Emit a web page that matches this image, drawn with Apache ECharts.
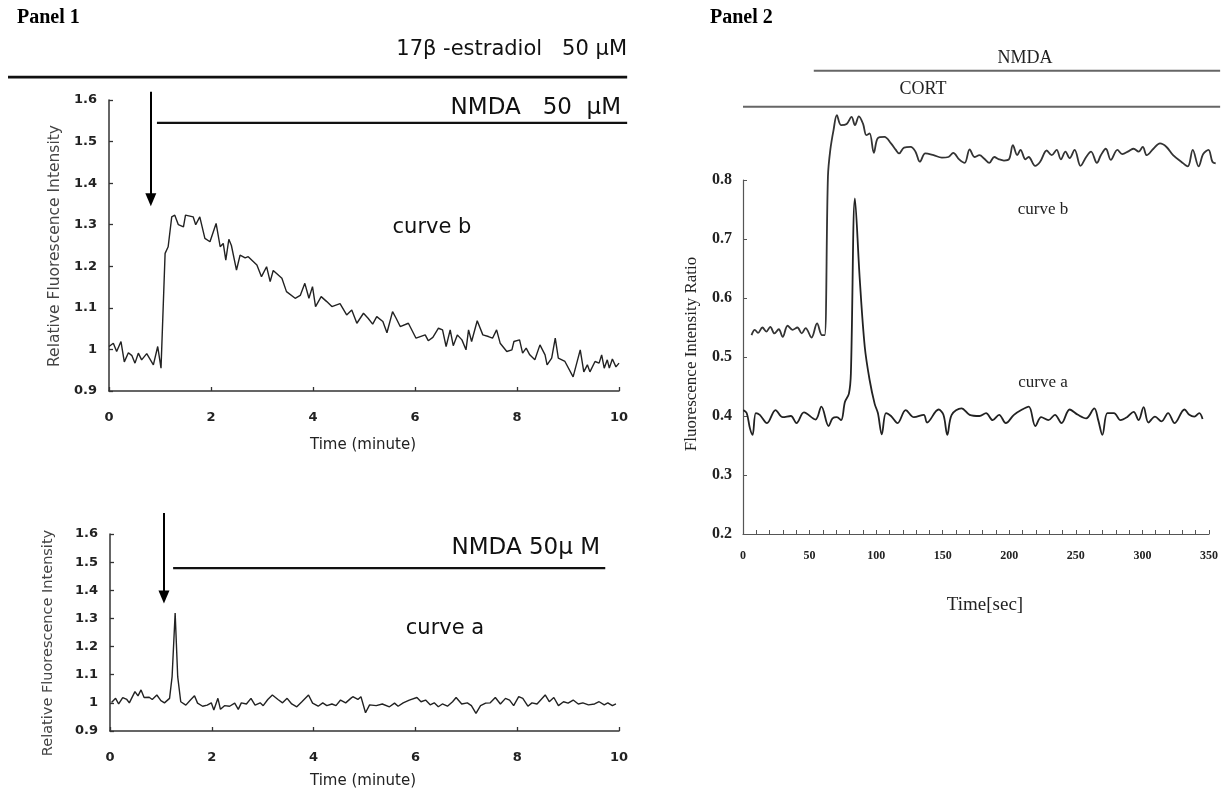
<!DOCTYPE html>
<html>
<head>
<meta charset="utf-8">
<script src="https://cdn.jsdelivr.net/npm/echarts@6/dist/echarts.min.js"></script>
<style>
html,body{margin:0;padding:0;background:#fff;}
#chart{width:1228px;height:794px;}
</style>
</head>
<body>
<div id="chart"></div>
<script>
// ---------- Panel 1, curve b (with 17β-estradiol) ----------
const p1bTime = [0,0.085,0.15,0.235,0.30,0.38,0.45,0.51,0.575,0.64,0.74,0.87,0.955,1.02,1.10,1.16,1.23,1.29,1.36,1.46,1.50,1.65,1.70,1.78,1.88,1.98,2.10,2.18,2.24,2.29,2.35,2.40,2.50,2.57,2.67,2.73,2.90,2.99,3.09,3.16,3.22,3.39,3.48,3.65,3.75,3.84,3.92,3.99,4.05,4.16,4.27,4.37,4.53,4.66,4.76,4.86,4.99,5.08,5.17,5.25,5.37,5.45,5.56,5.63,5.71,5.87,6.02,6.20,6.26,6.35,6.46,6.54,6.61,6.69,6.75,6.83,6.92,7.00,7.05,7.11,7.22,7.33,7.44,7.52,7.60,7.67,7.80,7.90,7.94,8.05,8.11,8.18,8.25,8.35,8.45,8.55,8.59,8.68,8.75,8.81,8.94,9.10,9.24,9.31,9.38,9.43,9.53,9.61,9.66,9.71,9.77,9.81,9.87,9.94,10.0];
const p1bValue = [1.007,1.015,0.995,1.019,0.970,0.992,0.985,0.967,0.991,0.975,0.990,0.963,1.007,0.955,1.231,1.247,1.319,1.323,1.300,1.295,1.323,1.319,1.300,1.319,1.267,1.259,1.303,1.247,1.255,1.215,1.265,1.250,1.191,1.227,1.220,1.223,1.203,1.175,1.199,1.163,1.190,1.171,1.139,1.123,1.130,1.159,1.123,1.151,1.103,1.127,1.115,1.103,1.110,1.083,1.095,1.063,1.087,1.075,1.061,1.079,1.067,1.040,1.091,1.075,1.055,1.063,1.027,1.035,1.021,1.029,1.051,1.047,1.007,1.047,1.009,1.035,1.023,0.999,1.047,1.019,1.069,1.035,1.031,1.027,1.047,1.015,0.995,0.999,1.019,1.023,0.991,1.003,0.987,0.975,1.011,0.987,0.963,0.979,1.027,0.979,0.971,0.934,0.999,0.946,0.963,0.946,0.971,0.967,0.987,0.955,0.975,0.955,0.977,0.958,0.967];

// ---------- Panel 1, curve a (control) ----------
const p1aTime = [0.03,0.11,0.17,0.25,0.33,0.38,0.49,0.55,0.61,0.67,0.77,0.83,0.92,1.00,1.07,1.17,1.22,1.28,1.33,1.39,1.49,1.58,1.66,1.72,1.82,1.91,1.99,2.04,2.12,2.17,2.25,2.35,2.45,2.52,2.58,2.68,2.77,2.85,2.95,3.01,3.10,3.19,3.30,3.39,3.48,3.57,3.67,3.77,3.90,3.98,4.09,4.18,4.26,4.36,4.44,4.53,4.63,4.73,4.77,4.87,4.93,5.02,5.10,5.23,5.35,5.49,5.59,5.66,5.76,5.88,6.03,6.11,6.20,6.29,6.37,6.45,6.53,6.63,6.73,6.80,6.91,7.02,7.10,7.19,7.28,7.38,7.47,7.57,7.67,7.77,7.85,7.93,8.03,8.11,8.21,8.29,8.39,8.47,8.55,8.63,8.72,8.81,8.91,9.00,9.10,9.20,9.29,9.40,9.52,9.61,9.71,9.78,9.87,9.94];
const p1aValue = [1.001,1.016,0.996,1.019,1.012,1.000,1.040,1.025,1.046,1.019,1.020,1.012,1.028,1.008,1.000,1.016,1.093,1.319,1.093,1.004,0.992,1.010,1.025,0.999,0.988,0.992,1.000,0.975,1.016,0.977,0.990,0.988,0.999,0.977,1.000,0.996,1.016,0.992,1.000,0.990,1.012,1.028,1.012,1.000,1.016,0.996,0.986,1.004,1.028,0.999,0.988,1.000,0.990,0.996,0.990,1.010,1.000,1.016,1.022,1.012,1.022,0.965,0.993,0.990,0.996,0.986,0.999,0.988,1.000,1.010,1.019,1.004,1.010,0.993,1.000,0.986,0.996,0.988,1.004,1.019,0.996,1.000,0.990,0.963,0.990,0.999,1.000,1.019,0.996,1.016,1.010,0.990,1.022,1.016,0.988,1.000,0.996,1.012,1.028,1.004,1.019,0.990,1.004,0.999,1.010,0.996,1.000,0.993,0.996,1.004,0.993,1.000,0.990,0.996];

// ---------- Panel 2, curve b ----------
const p2bTime = [6.5,9,11.5,14.8,17.8,20.8,24,27.3,30.3,34,37.8,41.5,44.8,47.8,52.3,56.5,60.3,62.3,64.8,66.6,69.1,71.6,74.8,79.1,82.8,85.4,88.4,91.6,94.1,96.6,99.8,102.9,107.9,112.9,116.6,119.1,122.9,127.9,131.6,134.9,139.1,145.4,151.7,156.7,160.4,164.9,169.1,172.9,176.6,180.4,184.1,187.9,191.6,195.4,199.1,202.9,205.9,209.2,211.7,215.5,217.9,222.9,226.7,231.7,235.5,239.3,242.5,246,249.2,253,257.5,261.8,265.5,270,273,276.8,280.6,285.6,289.3,294.3,298,301.8,305,308,313.1,318.1,323.1,328.1,334.3,339.3,343.1,347.6,351.1,355.1,358.1,360.6];
const p2bValue = [0.537,0.546,0.541,0.550,0.543,0.551,0.540,0.547,0.534,0.553,0.546,0.550,0.540,0.549,0.533,0.557,0.537,0.537,0.806,0.851,0.885,0.910,0.893,0.895,0.907,0.893,0.908,0.895,0.876,0.879,0.846,0.871,0.873,0.862,0.851,0.845,0.855,0.856,0.848,0.831,0.845,0.842,0.838,0.839,0.846,0.835,0.829,0.852,0.839,0.842,0.836,0.829,0.839,0.835,0.833,0.835,0.859,0.842,0.851,0.835,0.839,0.824,0.831,0.850,0.842,0.851,0.835,0.848,0.837,0.851,0.824,0.839,0.848,0.829,0.842,0.853,0.834,0.851,0.844,0.849,0.853,0.848,0.856,0.842,0.853,0.862,0.856,0.842,0.831,0.823,0.851,0.823,0.844,0.851,0.831,0.828];

// ---------- Panel 2, curve a ----------
const p2aTime = [0.2,2.8,5.3,7.3,9.8,12.8,18.3,24.8,30.3,36.5,40.8,46.5,55.3,59.8,65.3,68.3,71.6,74.8,77.8,80.8,82.3,85.4,89.1,92.9,96.6,100.4,102.9,105.9,109.1,112.9,117.9,124.1,130.4,137.9,140.4,149.2,152.9,155.9,159.2,166.7,172.9,180.4,185.4,190.5,195.4,200.5,206.7,213,218,223,227.5,233,238,243,249.2,255.5,261.8,268,271,274.2,278,283,288,293,298,301.8,305.6,309.3,314.3,319.3,324.3,329.3,336.8,340.5,344.3,348.1,350.6];
const p2aValue = [0.410,0.405,0.379,0.368,0.405,0.402,0.388,0.410,0.398,0.400,0.388,0.406,0.394,0.416,0.383,0.396,0.398,0.393,0.424,0.438,0.472,0.769,0.631,0.517,0.461,0.421,0.405,0.369,0.405,0.400,0.388,0.410,0.398,0.402,0.389,0.411,0.402,0.368,0.402,0.413,0.402,0.400,0.405,0.393,0.402,0.388,0.402,0.411,0.416,0.383,0.398,0.393,0.402,0.388,0.411,0.402,0.396,0.413,0.393,0.368,0.405,0.405,0.393,0.398,0.407,0.393,0.415,0.389,0.399,0.391,0.405,0.388,0.411,0.402,0.399,0.405,0.395];

// ---------- Treatment periods (start, end of application) ----------
const estradiolPeriod = [-1.98, 10.16];   // Panel 1 top, minutes
const nmdaPeriodTop = [0.94, 10.16];      // Panel 1 top, minutes
const nmdaPeriodBottom = [1.24, 9.73];    // Panel 1 bottom, minutes
const nmdaArrowTop = [0.82, 1.62, 1.36];    // NMDA addition: time, arrow tail, arrow head
const nmdaArrowBottom = [1.06, 1.675, 1.376];
const nmdaPeriodP2 = [54, 364];           // Panel 2, seconds
const cortPeriodP2 = [0, 364];

// ---------- Axis ticks ----------
const p1YTicks = {min: 0.9, max: 1.6, step: 0.1};
const p1XTicks = {min: 0, max: 10, step: 2};
const p2YTicks = {min: 0.2, max: 0.8, step: 0.1};
const p2XTicks = {min: 0, max: 350, step: 10, labelStep: 50};

const zip = (a, b) => a.map((t, i) => [t, b[i]]);
const INK = '#222';
const sansFont = '"DejaVu Sans", "Noto Sans CJK JP", sans-serif';
const serifFont = '"Liberation Serif", "Times New Roman", serif';

// Layout of the plotting areas (pixels)
const G1 = {left: 109, top: 100, width: 510, height: 291};
const G2 = {left: 110, top: 534, width: 509, height: 197};
const G3 = {left: 743, top: 180, width: 466, height: 354};
// Auxiliary (hidden) axes with the same scales but a wider range, for marks that run past the axis ends
const auxP1 = {xmin: -2, xmax: 11, ymin: 0.9, ymax: 1.7};
const auxP2 = {xmin: 0, xmax: 370, ymin: 0.2, ymax: 1.0};
function auxGrid(g, xr, yr, a) {
  const px = g.width / (xr.max - xr.min), py = g.height / (yr.max - yr.min);
  return {
    left: g.left + (a.xmin - xr.min) * px, width: (a.xmax - a.xmin) * px,
    top: g.top - (a.ymax - yr.max) * py, height: (a.ymax - a.ymin) * py
  };
}

function p1X(gi) {
  return {
    type: 'value', gridIndex: gi, min: p1XTicks.min, max: p1XTicks.max, interval: p1XTicks.step,
    axisLine: {show: true, onZero: false, lineStyle: {color: '#333', width: 1.5}},
    axisTick: {show: true, inside: true, length: 4, lineStyle: {color: '#333', width: 1.3}},
    axisLabel: {color: '#222', fontFamily: sansFont, fontWeight: 'bold', fontSize: 13, margin: 20},
    splitLine: {show: false}
  };
}
function p1Y(gi) {
  return {
    type: 'value', gridIndex: gi, min: p1YTicks.min, max: p1YTicks.max, interval: p1YTicks.step,
    axisLine: {show: true, onZero: false, lineStyle: {color: '#333', width: 1.5}},
    axisTick: {show: true, inside: true, length: 4, lineStyle: {color: '#333', width: 1.3}},
    axisLabel: {color: '#222', fontFamily: sansFont, fontWeight: 'bold', fontSize: 13, margin: 12},
    splitLine: {show: false}
  };
}
function hiddenAxis(gi, min, max) {
  return {type: 'value', gridIndex: gi, min: min, max: max, show: false, splitLine: {show: false}};
}
function bar(name, axisIdx, period, level, width, color, arrow) {
  const s = {
    name: name, type: 'line', xAxisIndex: axisIdx, yAxisIndex: axisIdx, clip: false, silent: true,
    showSymbol: false, symbol: 'none', animation: false,
    data: [[period[0], level], [period[1], level]],
    lineStyle: {color: color, width: width}
  };
  if (arrow) {
    s.markLine = {
      silent: true, animation: false, symbol: ['none', 'triangle'], symbolSize: [11, 13],
      label: {show: false},
      lineStyle: {color: '#000', width: 2, type: 'solid'},
      data: [[{coord: [arrow[0], arrow[1]]}, {coord: [arrow[0], arrow[2]]}]]
    };
  }
  return s;
}

const P1X = {min: p1XTicks.min, max: p1XTicks.max}, P1Y = {min: p1YTicks.min, max: p1YTicks.max};
const P2X = {min: p2XTicks.min, max: p2XTicks.max}, P2Y = {min: p2YTicks.min, max: p2YTicks.max};

const chart = echarts.init(document.getElementById('chart'), null, {renderer: 'canvas'});
const option = {
  backgroundColor: '#fff',
  animation: false,
  grid: [
    G1, G2, G3,
    auxGrid(G1, P1X, P1Y, auxP1),
    auxGrid(G2, P1X, P1Y, auxP1),
    auxGrid(G3, P2X, P2Y, auxP2)
  ],
  xAxis: [
    p1X(0),
    p1X(1),
    {
      type: 'value', gridIndex: 2, min: p2XTicks.min, max: p2XTicks.max, interval: p2XTicks.step,
      axisLine: {show: true, onZero: false, lineStyle: {color: '#555', width: 1.2}},
      axisTick: {show: true, inside: true, length: 4, lineStyle: {color: '#555', width: 1}},
      axisLabel: {
        color: '#222', fontFamily: serifFont, fontWeight: 'bold', fontSize: 12, margin: 16,
        formatter: v => (v % p2XTicks.labelStep === 0 ? String(v) : '')
      },
      splitLine: {show: false}
    },
    hiddenAxis(3, auxP1.xmin, auxP1.xmax),
    hiddenAxis(4, auxP1.xmin, auxP1.xmax),
    hiddenAxis(5, auxP2.xmin, auxP2.xmax)
  ],
  yAxis: [
    p1Y(0),
    p1Y(1),
    {
      type: 'value', gridIndex: 2, min: p2YTicks.min, max: p2YTicks.max, interval: p2YTicks.step,
      axisLine: {show: true, onZero: false, lineStyle: {color: '#555', width: 1.2}},
      axisTick: {show: true, inside: true, length: 4, lineStyle: {color: '#555', width: 1}},
      axisLabel: {color: '#222', fontFamily: serifFont, fontWeight: 'bold', fontSize: 16, margin: 11},
      splitLine: {show: false}
    },
    hiddenAxis(3, auxP1.ymin, auxP1.ymax),
    hiddenAxis(4, auxP1.ymin, auxP1.ymax),
    hiddenAxis(5, auxP2.ymin, auxP2.ymax)
  ],
  series: [
    {name: 'Panel 1 curve b', type: 'line', xAxisIndex: 0, yAxisIndex: 0, showSymbol: false, symbol: 'none',
     data: zip(p1bTime, p1bValue), lineStyle: {color: INK, width: 1.4}},
    {name: 'Panel 1 curve a', type: 'line', xAxisIndex: 1, yAxisIndex: 1, showSymbol: false, symbol: 'none',
     data: zip(p1aTime, p1aValue), lineStyle: {color: INK, width: 1.4}},
    {name: 'Panel 2 curve b', type: 'line', xAxisIndex: 5, yAxisIndex: 5, showSymbol: false, symbol: 'none', clip: false,
     smooth: 0.35, data: zip(p2bTime, p2bValue), lineStyle: {color: '#333', width: 1.8}},
    {name: 'Panel 2 curve a', type: 'line', xAxisIndex: 5, yAxisIndex: 5, showSymbol: false, symbol: 'none', clip: false,
     smooth: 0.35, data: zip(p2aTime, p2aValue), lineStyle: {color: '#222', width: 1.8}},
    bar('17β-estradiol', 3, estradiolPeriod, 1.655, 2.6, '#111'),
    bar('NMDA top', 3, nmdaPeriodTop, 1.545, 2.2, '#111', nmdaArrowTop),
    bar('NMDA bottom', 4, nmdaPeriodBottom, 1.479, 2.2, '#111', nmdaArrowBottom),
    bar('NMDA P2', 5, nmdaPeriodP2, 0.985, 2, '#666'),
    bar('CORT P2', 5, cortPeriodP2, 0.924, 2, '#666')
  ],
  graphic: [
    {type: 'text', left: 17, top: 8, style: {text: 'Panel 1', font: 'bold 20px ' + serifFont, fill: '#000'}},
    {type: 'text', left: 710, top: 8, style: {text: 'Panel 2', font: 'bold 20px ' + serifFont, fill: '#000'}},
    {type: 'text', x: 627, y: 50, style: {text: '17β -estradiol   50 μM', font: '21px ' + sansFont, fill: '#111', align: 'right', verticalAlign: 'middle'}},
    {type: 'text', x: 621, y: 108, style: {text: 'NMDA   50  μM', font: '23px ' + sansFont, fill: '#111', align: 'right', verticalAlign: 'middle'}},
    {type: 'text', x: 432, y: 228, style: {text: 'curve b', font: '21px ' + sansFont, fill: '#111', align: 'center', verticalAlign: 'middle'}},
    {type: 'text', x: 600, y: 548, style: {text: 'NMDA 50μ M', font: '23px ' + sansFont, fill: '#111', align: 'right', verticalAlign: 'middle'}},
    {type: 'text', x: 445, y: 629, style: {text: 'curve a', font: '21px ' + sansFont, fill: '#111', align: 'center', verticalAlign: 'middle'}},
    {type: 'text', x: 55, y: 246, rotation: Math.PI / 2, style: {text: 'Relative Fluorescence Intensity', font: '15.5px ' + sansFont, fill: '#444', align: 'center', verticalAlign: 'middle'}},
    {type: 'text', x: 48, y: 643, rotation: Math.PI / 2, style: {text: 'Relative Fluorescence Intensity', font: '14.5px ' + sansFont, fill: '#444', align: 'center', verticalAlign: 'middle'}},
    {type: 'text', x: 363, y: 445, style: {text: 'Time (minute)', font: '15px ' + sansFont, fill: '#222', align: 'center', verticalAlign: 'middle'}},
    {type: 'text', x: 363, y: 781, style: {text: 'Time (minute)', font: '15px ' + sansFont, fill: '#222', align: 'center', verticalAlign: 'middle'}},
    {type: 'text', x: 1025, y: 58, style: {text: 'NMDA', font: '18px ' + serifFont, fill: '#222', align: 'center', verticalAlign: 'middle'}},
    {type: 'text', x: 923, y: 89, style: {text: 'CORT', font: '18px ' + serifFont, fill: '#222', align: 'center', verticalAlign: 'middle'}},
    {type: 'text', x: 1043, y: 210, style: {text: 'curve b', font: '17px ' + serifFont, fill: '#222', align: 'center', verticalAlign: 'middle'}},
    {type: 'text', x: 1043, y: 383, style: {text: 'curve a', font: '17px ' + serifFont, fill: '#222', align: 'center', verticalAlign: 'middle'}},
    {type: 'text', x: 692, y: 354, rotation: Math.PI / 2, style: {text: 'Fluorescence Intensity Ratio', font: '17px ' + serifFont, fill: '#222', align: 'center', verticalAlign: 'middle'}},
    {type: 'text', x: 985, y: 605, style: {text: 'Time[sec]', font: '19px ' + serifFont, fill: '#222', align: 'center', verticalAlign: 'middle'}}
  ]
};
chart.setOption(option);
</script>
</body>
</html>
